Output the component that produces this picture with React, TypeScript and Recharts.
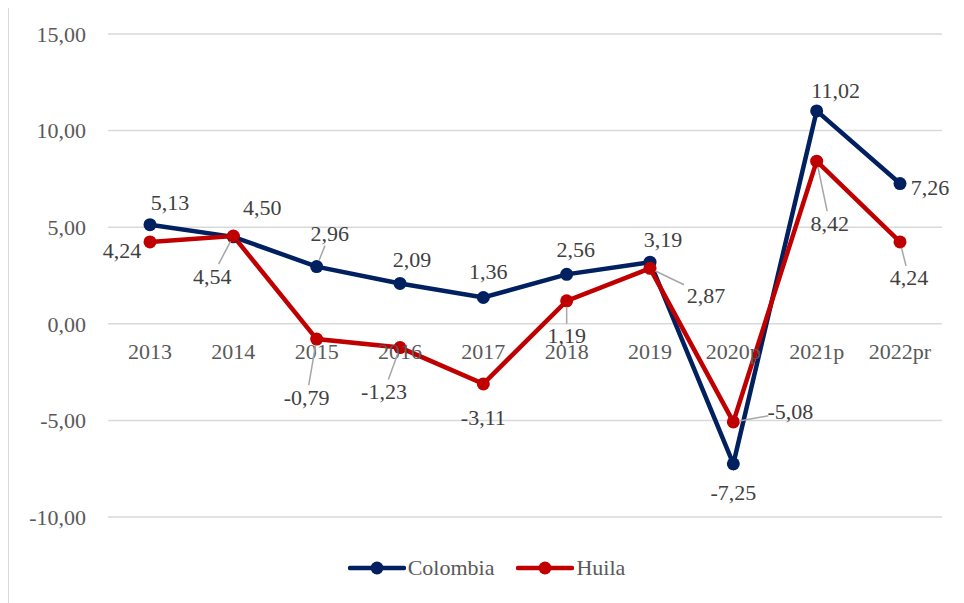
import React from 'react';
import { LineChart, Line, XAxis, YAxis, CartesianGrid, LabelList, Legend } from 'recharts';

const categories = ['2013', '2014', '2015', '2016', '2017', '2018', '2019', '2020p', '2021p', '2022pr'];
const colombia = [5.13, 4.5, 2.96, 2.09, 1.36, 2.56, 3.19, -7.25, 11.02, 7.26];
const huila = [4.24, 4.54, -0.79, -1.23, -3.11, 1.19, 2.87, -5.08, 8.42, 4.24];
const yTicks = [-10, -5, 0, 5, 10, 15];
const seriesNames = ['Colombia', 'Huila'];

// label placement (offset from point, whether a leader line is drawn)
const colombiaLabelPos: [number, number, boolean][] = [
  [20, -22, false], [29, -29, false], [13, -33, true], [12, -24, false], [5, -26, false],
  [9, -25, false], [13, -23, false], [0, 29, false], [19, -20, false], [30, 4, false],
];
const huilaLabelPos: [number, number, boolean][] = [
  [-28, 9, false], [-21, 40, true], [-10, 58, true], [-16, 44, true], [0, 34, false],
  [0, 35, true], [56, 27, true], [57, -10, true], [13, 62, true], [9, 36, true],
];

const COLORS = ['#002060', '#C00000'];
const FONT = '"Liberation Serif", "Times New Roman", serif';
const W = 955;
const H = 597;
const M = { top: 28, right: 22, left: 0, bottom: 56 };
const XH = 30;
const PLOT_H = H - M.top - M.bottom - XH;
const ZERO_Y = M.top + (15 / 25) * PLOT_H;

const data = categories.map((c, i) => ({ cat: c, Colombia: colombia[i], Huila: huila[i] }));

const fmt = (v: number) => v.toFixed(2).replace('.', ',');

const makeLabel = (pos: [number, number, boolean][]) => (props: any) => {
  const { x, y, value, index } = props;
  if (x == null || y == null) return null;
  const [dx, dy, leader] = pos[index];
  const lx = x + dx;
  const ly = y + dy;
  let line = null;
  if (leader) {
    const adx = Math.abs(dx) || 0.001;
    const ady = Math.abs(dy) || 0.001;
    const t = 1 - Math.min(22 / adx, 12 / ady);
    const s = 6 / Math.hypot(dx, dy);
    if (t > s) {
      line = (
        <line x1={x + dx * s} y1={y + dy * s} x2={x + dx * t} y2={y + dy * t} stroke="#a6a6a6" strokeWidth={1.5} />
      );
    }
  }
  return (
    <g>
      {line}
      <text x={lx} y={ly} textAnchor="middle" dominantBaseline="central" fontFamily={FONT} fontSize={22} fill="#404040">
        {fmt(value)}
      </text>
    </g>
  );
};

const XTick = (props: any) => {
  const { x, payload } = props;
  return (
    <text x={x} y={ZERO_Y + 28} textAnchor="middle" dominantBaseline="central" fontFamily={FONT} fontSize={22} fill="#595959">
      {payload.value}
    </text>
  );
};

const LegendContent = () => (
  <div style={{ display: 'flex', justifyContent: 'center', alignItems: 'center', fontFamily: FONT, fontSize: 22, color: '#595959' }}>
    {seriesNames.map((n, i) => (
      <div key={n} style={{ display: 'flex', alignItems: 'center', marginRight: i === 0 ? 22 : 0 }}>
        <svg width={58} height={16} style={{ marginRight: 2 }}>
          <line x1={2} y1={8} x2={56} y2={8} stroke={COLORS[i]} strokeWidth={4.5} strokeLinecap="round" />
          <circle cx={29} cy={8} r={6.5} fill={COLORS[i]} />
        </svg>
        <span>{n}</span>
      </div>
    ))}
  </div>
);

export default function App() {
  return (
    <div style={{ marginTop: -3, width: W, height: H, borderLeft: '1px solid #d9d9d9', borderTop: '1px solid #d9d9d9', background: '#fff' }}>
      <LineChart width={W} height={H} data={data} margin={M}>
        <CartesianGrid vertical={false} stroke="#d9d9d9" strokeWidth={1.5} />
        <XAxis
          dataKey="cat"
          height={XH}
          axisLine={false}
          tickLine={false}
          tick={<XTick />}
          interval={0}
          padding={{ left: 42, right: 42 }}
        />
        <YAxis
          width={99}
          domain={[-10, 15]}
          ticks={yTicks}
          axisLine={false}
          tickLine={false}
          tickMargin={16}
          tickFormatter={fmt}
          tick={{ fontFamily: FONT, fontSize: 22, fill: '#595959' }}
        />
        <Legend verticalAlign="middle" align="center" layout="horizontal" content={<LegendContent />} wrapperStyle={{ top: 549, left: 0, width: W }} />
        {seriesNames.map((n, i) => (
          <Line
            key={n}
            dataKey={n}
            stroke={COLORS[i]}
            strokeWidth={4.5}
            dot={{ r: 6.5, fill: COLORS[i], stroke: COLORS[i], strokeWidth: 0 }}
            isAnimationActive={false}
          >
            <LabelList dataKey={n} content={makeLabel(i === 0 ? colombiaLabelPos : huilaLabelPos)} />
          </Line>
        ))}
      </LineChart>
    </div>
  );
}
